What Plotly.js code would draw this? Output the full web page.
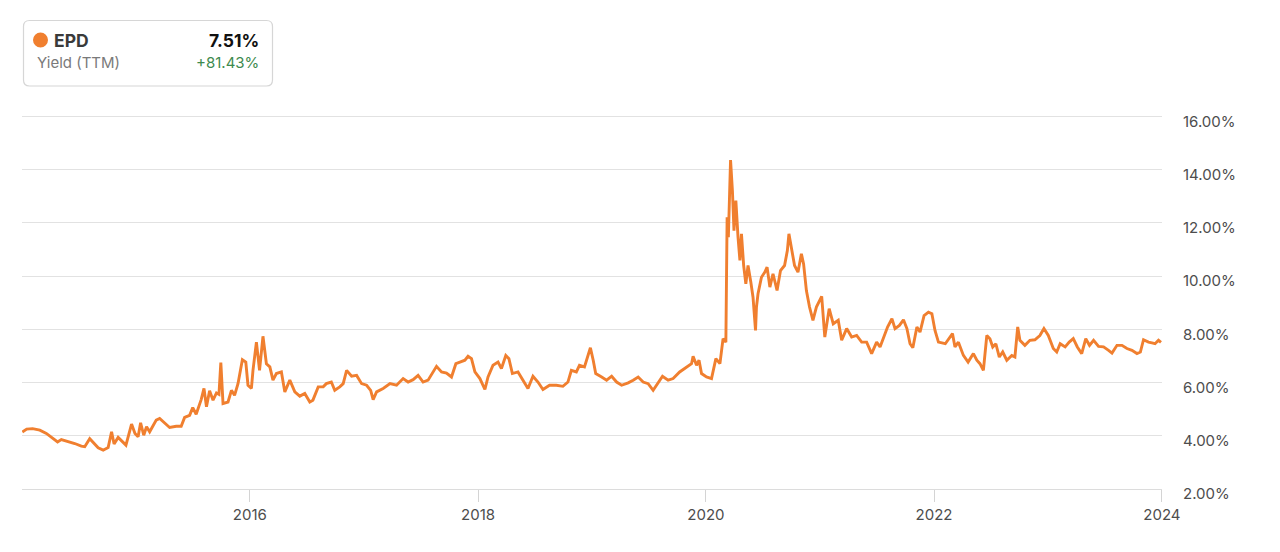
<!DOCTYPE html>
<html>
<head>
<meta charset="utf-8">
<script src="https://cdn.plot.ly/plotly-3.0.1.min.js"></script>
<style>
  html, body { margin: 0; padding: 0; background: #ffffff; }
  #chart { width: 1280px; height: 552px; }
</style>
</head>
<body>
<div id="chart"></div>
<script>
// ---- Data ----
const ticker = "EPD";
const metricLabel = "Yield (TTM)";
const lastValueText = "7.51%";
const changeText = "+81.43%";

const dates = [
  "2014-01-02","2014-01-16","2014-02-04","2014-02-18","2014-02-27","2014-03-20","2014-04-05","2014-04-25","2014-05-07","2014-06-03",
  "2014-06-19","2014-07-10","2014-07-21","2014-08-06","2014-08-17","2014-09-02","2014-09-18","2014-10-04","2014-10-15","2014-10-23",
  "2014-11-05","2014-11-21","2014-11-30","2014-12-18","2014-12-29","2015-01-08","2015-01-16","2015-01-26","2015-02-04","2015-02-14",
  "2015-03-07","2015-03-18","2015-04-03","2015-04-19","2015-05-10","2015-05-26","2015-06-06","2015-06-22","2015-07-02","2015-07-13",
  "2015-07-29","2015-08-07","2015-08-15","2015-08-25","2015-09-05","2015-09-16","2015-09-24","2015-09-30","2015-10-07","2015-10-23",
  "2015-11-03","2015-11-13","2015-11-24","2015-12-08","2015-12-19","2015-12-26","2016-01-06","2016-01-11","2016-01-22","2016-02-01",
  "2016-02-12","2016-02-23","2016-03-05","2016-03-15","2016-03-26","2016-04-11","2016-04-22","2016-05-08","2016-05-24","2016-06-09",
  "2016-06-25","2016-07-11","2016-07-21","2016-08-07","2016-08-23","2016-09-02","2016-09-18","2016-09-29","2016-10-15","2016-10-26",
  "2016-11-06","2016-11-22","2016-12-08","2016-12-24","2017-01-09","2017-01-22","2017-01-30","2017-02-10","2017-03-03","2017-03-25",
  "2017-04-15","2017-05-06","2017-05-22","2017-06-07","2017-06-23","2017-07-09","2017-07-25","2017-08-10","2017-08-21","2017-09-06",
  "2017-09-22","2017-10-08","2017-10-22","2017-11-04","2017-11-20","2017-11-30","2017-12-11","2017-12-22","2018-01-07","2018-01-23",
  "2018-02-02","2018-02-18","2018-03-06","2018-03-17","2018-03-31","2018-04-10","2018-04-21","2018-05-09","2018-05-25","2018-06-10",
  "2018-06-26","2018-07-12","2018-07-28","2018-08-18","2018-09-09","2018-09-30","2018-10-16","2018-10-27","2018-11-12","2018-11-22",
  "2018-12-08","2018-12-19","2018-12-27","2019-01-05","2019-01-13","2019-02-01","2019-02-17","2019-03-05","2019-03-21","2019-04-06",
  "2019-04-27","2019-05-13","2019-05-29","2019-06-14","2019-06-30","2019-07-16","2019-08-01","2019-08-15","2019-09-02","2019-09-18",
  "2019-10-09","2019-10-31","2019-11-16","2019-11-21","2019-12-02","2019-12-10","2019-12-18","2020-01-03","2020-01-19","2020-02-02",
  "2020-02-15","2020-02-25","2020-03-05","2020-03-09","2020-03-13","2020-03-20","2020-03-26","2020-03-31","2020-04-06","2020-04-13",
  "2020-04-19","2020-04-24","2020-05-01","2020-05-08","2020-05-15","2020-05-24","2020-05-31","2020-06-08","2020-06-11","2020-06-16",
  "2020-06-27","2020-07-08","2020-07-15","2020-07-24","2020-08-03","2020-08-16","2020-08-27","2020-09-09","2020-09-18","2020-09-23",
  "2020-10-01","2020-10-11","2020-10-22","2020-11-02","2020-11-09","2020-11-18","2020-11-28","2020-12-09","2020-12-20","2021-01-06",
  "2021-01-16","2021-01-30","2021-02-12","2021-02-28","2021-03-11","2021-03-27","2021-04-12","2021-04-28","2021-05-14","2021-05-30",
  "2021-06-15","2021-07-01","2021-07-12","2021-07-25","2021-08-05","2021-08-19","2021-08-29","2021-09-12","2021-09-25","2021-10-06",
  "2021-10-16","2021-10-25","2021-11-07","2021-11-17","2021-11-30","2021-12-14","2021-12-25","2022-01-04","2022-01-15","2022-02-06",
  "2022-03-01","2022-03-09","2022-03-20","2022-04-05","2022-04-20","2022-05-07","2022-05-18","2022-05-28","2022-06-08","2022-06-19",
  "2022-06-29","2022-07-08","2022-07-18","2022-07-29","2022-08-09","2022-08-22","2022-09-07","2022-09-17","2022-09-26","2022-10-03",
  "2022-10-19","2022-11-04","2022-11-20","2022-12-06","2022-12-19","2023-01-02","2023-01-18","2023-01-29","2023-02-09","2023-02-25",
  "2023-03-10","2023-03-23","2023-04-05","2023-04-19","2023-05-02","2023-05-14","2023-05-27","2023-06-12","2023-06-28","2023-07-14",
  "2023-07-25","2023-08-10","2023-08-26","2023-09-11","2023-09-27","2023-10-13","2023-10-24","2023-11-03","2023-11-19","2023-11-30",
  "2023-12-10","2023-12-21","2023-12-29"
];

const yieldPct = [
  4.14,4.25,4.27,4.23,4.21,4.09,3.94,3.77,3.86,3.77,
  3.71,3.61,3.59,3.89,3.74,3.55,3.46,3.56,4.15,3.69,
  3.94,3.74,3.65,4.44,4.09,3.96,4.49,4.02,4.34,4.15,
  4.59,4.65,4.46,4.31,4.36,4.36,4.69,4.77,5.06,4.81,
  5.36,5.78,5.09,5.69,5.34,5.61,5.56,6.75,5.21,5.27,
  5.71,5.52,5.96,6.86,6.77,5.90,5.78,6.46,7.52,6.46,
  7.74,6.71,6.59,6.09,6.34,6.40,5.65,6.09,5.65,5.49,
  5.59,5.27,5.34,5.84,5.84,5.96,6.02,5.71,5.84,5.96,
  6.46,6.24,6.27,5.96,5.90,5.71,5.36,5.65,5.78,5.96,
  5.90,6.15,6.02,6.11,6.27,6.02,6.09,6.40,6.61,6.40,
  6.36,6.21,6.71,6.77,6.84,6.99,6.90,6.40,6.15,5.74,
  6.21,6.65,6.77,6.53,7.02,6.90,6.34,6.40,6.09,5.78,
  6.24,6.02,5.74,5.90,5.90,5.86,6.02,6.46,6.40,6.65,
  6.59,7.02,7.31,6.84,6.34,6.21,6.09,6.24,6.02,5.90,
  5.99,6.09,6.21,6.02,5.96,5.71,6.02,6.24,6.09,6.15,
  6.40,6.59,6.71,6.99,6.65,6.84,6.34,6.21,6.15,6.90,
  6.71,7.65,7.52,12.21,11.46,14.36,13.21,11.71,12.84,11.46,
  10.59,11.59,10.40,9.71,10.40,9.77,9.21,7.96,8.84,9.34,
  9.96,10.15,10.34,9.59,10.09,9.46,10.21,10.40,10.96,11.59,
  11.09,10.40,10.15,10.84,10.46,9.46,8.84,8.34,8.84,9.24,
  7.71,8.78,8.21,8.34,7.59,8.03,7.71,7.77,7.52,7.52,
  7.09,7.52,7.34,7.71,8.09,8.40,8.03,8.15,8.36,8.03,
  7.46,7.31,8.09,7.90,8.52,8.65,8.59,7.96,7.52,7.46,
  7.84,7.34,7.52,7.02,6.77,7.09,6.84,6.71,6.46,7.77,
  7.65,7.34,7.46,6.96,7.15,6.84,7.02,6.96,8.09,7.59,
  7.40,7.59,7.61,7.77,8.03,7.77,7.28,7.15,7.46,7.34,
  7.52,7.65,7.34,7.09,7.65,7.40,7.59,7.36,7.34,7.21,
  7.11,7.40,7.40,7.28,7.21,7.09,7.15,7.61,7.52,7.49,
  7.46,7.59,7.51
];

const xTickVals = ["2016-01-01","2018-01-01","2020-01-01","2022-01-01","2024-01-01"];
const xTickText = ["2016","2018","2020","2022","2024"];
const yTickVals = [2,4,6,8,10,12,14,16];
const yTickText = ["2.00%","4.00%","6.00%","8.00%","10.00%","12.00%","14.00%","16.00%"];
const yTop = 16;

// ---- Styling ----
const FONT = "Inter, 'Open Sans', 'DejaVu Sans', sans-serif";
const ORANGE = "#F07F2F";
const GRID = "#e2e2e2";

const trace = {
  x: dates,
  y: yieldPct,
  type: "scatter",
  mode: "lines",
  line: { color: ORANGE, width: 2.9, shape: "linear" },
  hoverinfo: "skip",
  showlegend: false
};

const M = { l: 22, r: 118, t: 116, b: 63 };
const W = 1280, H = 552;
const PW = W - M.l - M.r, PH = H - M.t - M.b;
const px = (x) => (x - M.l) / PW;
const py = (y) => (H - M.b - y) / PH;

function roundedRect(x0, y0, x1, y1, r) {
  return `M ${x0 + r},${y0} L ${x1 - r},${y0} Q ${x1},${y0} ${x1},${y0 + r} ` +
         `L ${x1},${y1 - r} Q ${x1},${y1} ${x1 - r},${y1} L ${x0 + r},${y1} ` +
         `Q ${x0},${y1} ${x0},${y1 - r} L ${x0},${y0 + r} Q ${x0},${y0} ${x0 + r},${y0} Z`;
}
const boxLeft = 23.5 - M.l, boxRight = 272.5 - M.l;
const boxTop = M.t - 20.5, boxBottom = M.t - 86;

const layout = {
  width: W,
  height: H,
  margin: M,
  paper_bgcolor: "#ffffff",
  plot_bgcolor: "#ffffff",
  font: { family: FONT, size: 15, color: "#4d4d4d" },
  showlegend: false,
  hovermode: false,
  xaxis: {
    type: "date",
    range: ["2014-01-01", "2024-01-01 06:00"],
    tickvals: xTickVals,
    ticktext: xTickText,
    showgrid: false,
    zeroline: false,
    showline: true,
    linecolor: "#dcdcdc",
    linewidth: 1,
    ticks: "outside",
    ticklen: 12,
    tickwidth: 1,
    tickcolor: "#d4d4d4",
    tickfont: { family: FONT, size: 15, color: "#4d4d4d" },
    fixedrange: true
  },
  yaxis: {
    side: "right",
    range: [2, 16.02],
    tickvals: yTickVals,
    ticktext: yTickText,
    showgrid: true,
    gridcolor: GRID,
    gridwidth: 1,
    zeroline: false,
    showline: false,
    ticks: "",
    ticklabelstandoff: 20,
    ticklabelshift: 5,
    tickfont: { family: FONT, size: 15, color: "#4d4d4d" },
    fixedrange: true
  },
  shapes: [
    {
      type: "line",
      xref: "paper", yref: "y",
      x0: 0, x1: 1, y0: yTop, y1: yTop,
      line: { color: GRID, width: 1 },
      layer: "below"
    },
    {
      type: "path",
      xref: "paper", yref: "paper",
      xsizemode: "pixel", ysizemode: "pixel",
      xanchor: 0, yanchor: 1,
      path: roundedRect(boxLeft, boxBottom, boxRight, boxTop, 6),
      line: { color: "#d6d6d6", width: 1.2 },
      fillcolor: "#ffffff",
      layer: "above"
    },
    {
      type: "circle",
      xref: "paper", yref: "paper",
      xsizemode: "pixel", ysizemode: "pixel",
      xanchor: 0, yanchor: 1,
      x0: 40.5 - 7.5 - M.l, x1: 40.5 + 7.5 - M.l,
      y0: M.t - 40 - 7.5, y1: M.t - 40 + 7.5,
      line: { width: 0 },
      fillcolor: ORANGE,
      layer: "above"
    }
  ],
  annotations: [
    {
      xref: "paper", yref: "paper",
      x: px(53), y: py(40.5),
      xanchor: "left", yanchor: "middle",
      text: "<b>" + ticker + "</b>",
      showarrow: false,
      font: { family: FONT, size: 17.5, color: "#3a3a3a" },
      borderpad: 0
    },
    {
      xref: "paper", yref: "paper",
      x: px(260), y: py(40.5),
      xanchor: "right", yanchor: "middle",
      text: "<b>" + lastValueText + "</b>",
      showarrow: false,
      font: { family: FONT, size: 17.5, color: "#111111" },
      borderpad: 0
    },
    {
      xref: "paper", yref: "paper",
      x: px(36), y: py(63),
      xanchor: "left", yanchor: "middle",
      text: metricLabel,
      showarrow: false,
      font: { family: FONT, size: 15, color: "#7a7a7a" },
      borderpad: 0
    },
    {
      xref: "paper", yref: "paper",
      x: px(260), y: py(63),
      xanchor: "right", yanchor: "middle",
      text: changeText,
      showarrow: false,
      font: { family: FONT, size: 15, color: "#3d8a4e" },
      borderpad: 0
    }
  ]
};

Plotly.newPlot("chart", [trace], layout, { displayModeBar: false, staticPlot: true });
</script>
</body>
</html>
